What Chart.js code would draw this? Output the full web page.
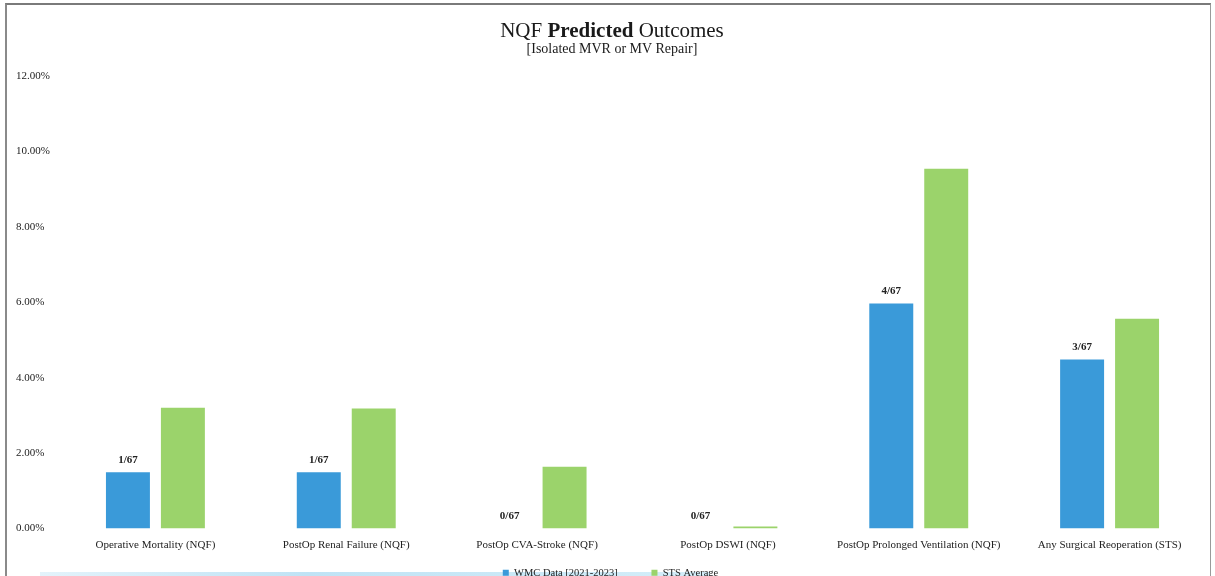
<!DOCTYPE html>
<html>
<head>
<meta charset="utf-8">
<title>NQF Predicted Outcomes</title>
<script src="https://cdn.jsdelivr.net/npm/chart.js@4"></script>
<style>
  html, body { margin: 0; padding: 0; background: #fff; overflow: hidden; }
  #wrap { position: relative; width: 1215px; height: 588px; }
  #frame {
    position: absolute; left: 5px; top: 3px; width: 1206px; height: 600px;
    border-top: 2px solid #7a7a7a; border-left: 2px solid #8a8a8a; border-right: 1px solid #9a9a9a;
    box-sizing: border-box; pointer-events: none;
  }
  .ttl { position: absolute; left: 0; width: 1224px; text-align: center;
         font-family: "Liberation Serif", "Times New Roman", serif; color: #1a1a1a; line-height: 1; }
  #t1 { top: 20px; font-size: 21px; }
  #t2 { top: 42px; font-size: 14px; }
  #band { position: absolute; left: 40px; top: 572px; width: 670px; height: 10px;
          background: linear-gradient(90deg, #e3f3fb, #bfe3f5 40%, #d4eef9); }
  canvas { position: absolute; left: 0; top: 0; }
</style>
</head>
<body>
<div id="wrap">
  <div id="band"></div>
  <canvas id="c" width="1215" height="588"></canvas>
  <div id="frame"></div>
  <div class="ttl" id="t1">NQF <b>Predicted</b> Outcomes</div>
  <div class="ttl" id="t2">[Isolated MVR or MV Repair]</div>
</div>
<script>
// Outcome categories
const categories = [
  'Operative Mortality (NQF)',
  'PostOp Renal Failure (NQF)',
  'PostOp CVA-Stroke (NQF)',
  'PostOp DSWI (NQF)',
  'PostOp Prolonged Ventilation (NQF)',
  'Any Surgical Reoperation (STS)'
];
// WMC rates (%) and the case counts they come from
const wmcRates = [1.49, 1.49, 0, 0, 5.97, 4.48];
const wmcCounts = ['1/67', '1/67', '0/67', '0/67', '4/67', '3/67'];
// STS benchmark rates (%)
const stsRates = [3.20, 3.18, 1.64, 0.05, 9.54, 5.56];
// Y axis ticks
const yTicks = [0, 2, 4, 6, 8, 10, 12];

const serif = '"Liberation Serif", "Times New Roman", serif';

// Writes the case count above each WMC bar
const countLabels = {
  id: 'countLabels',
  afterDatasetsDraw(chart) {
    const meta = chart.getDatasetMeta(0);
    const ctx = chart.ctx;
    ctx.save();
    ctx.font = 'bold 11px ' + serif;
    ctx.fillStyle = '#222';
    ctx.textAlign = 'center';
    ctx.textBaseline = 'bottom';
    meta.data.forEach((bar, i) => {
      ctx.fillText(wmcCounts[i], bar.x, bar.y - 7);
    });
    ctx.restore();
  }
};

new Chart(document.getElementById('c'), {
  type: 'bar',
  data: {
    labels: categories,
    datasets: [
      { label: 'WMC Data [2021-2023]', data: wmcRates, backgroundColor: '#3a9ad9',
        categoryPercentage: 0.576, barPercentage: 0.8 },
      { label: 'STS Average', data: stsRates, backgroundColor: '#9bd36b',
        categoryPercentage: 0.576, barPercentage: 0.8 }
    ]
  },
  options: {
    responsive: false,
    animation: false,
    layout: { padding: { left: 16, right: 10, top: 76, bottom: 0 } },
    plugins: {
      title: { display: false },
      tooltip: { enabled: false },
      legend: {
        position: 'bottom',
        labels: {
          boxWidth: 6, boxHeight: 6, padding: 10,
          color: '#222',
          font: { family: serif, size: 10.5 },
          // widen the gap between the two legend entries
          generateLabels(chart) {
            const items = Chart.defaults.plugins.legend.labels.generateLabels(chart);
            items.forEach((it, i) => { if (i < items.length - 1) it.text += '\u2003\u2003 '; });
            return items;
          }
        }
      }
    },
    scales: {
      x: {
        afterFit(scale) { scale.height = 29; },
        grid: { display: false, drawTicks: false },
        border: { display: false },
        ticks: {
          color: '#222', padding: 10, maxRotation: 0, autoSkip: false,
          font: { family: serif, size: 11 }
        }
      },
      y: {
        min: 0, max: 12,
        afterFit(scale) { scale.width = 44; },
        afterBuildTicks(scale) { scale.ticks = yTicks.map(v => ({ value: v })); },
        grid: { display: false, drawTicks: false },
        border: { display: false },
        ticks: {
          crossAlign: 'far', color: '#222',
          font: { family: serif, size: 11 },
          callback: v => v.toFixed(2) + '%'
        }
      }
    }
  },
  plugins: [countLabels]
});
</script>
</body>
</html>
